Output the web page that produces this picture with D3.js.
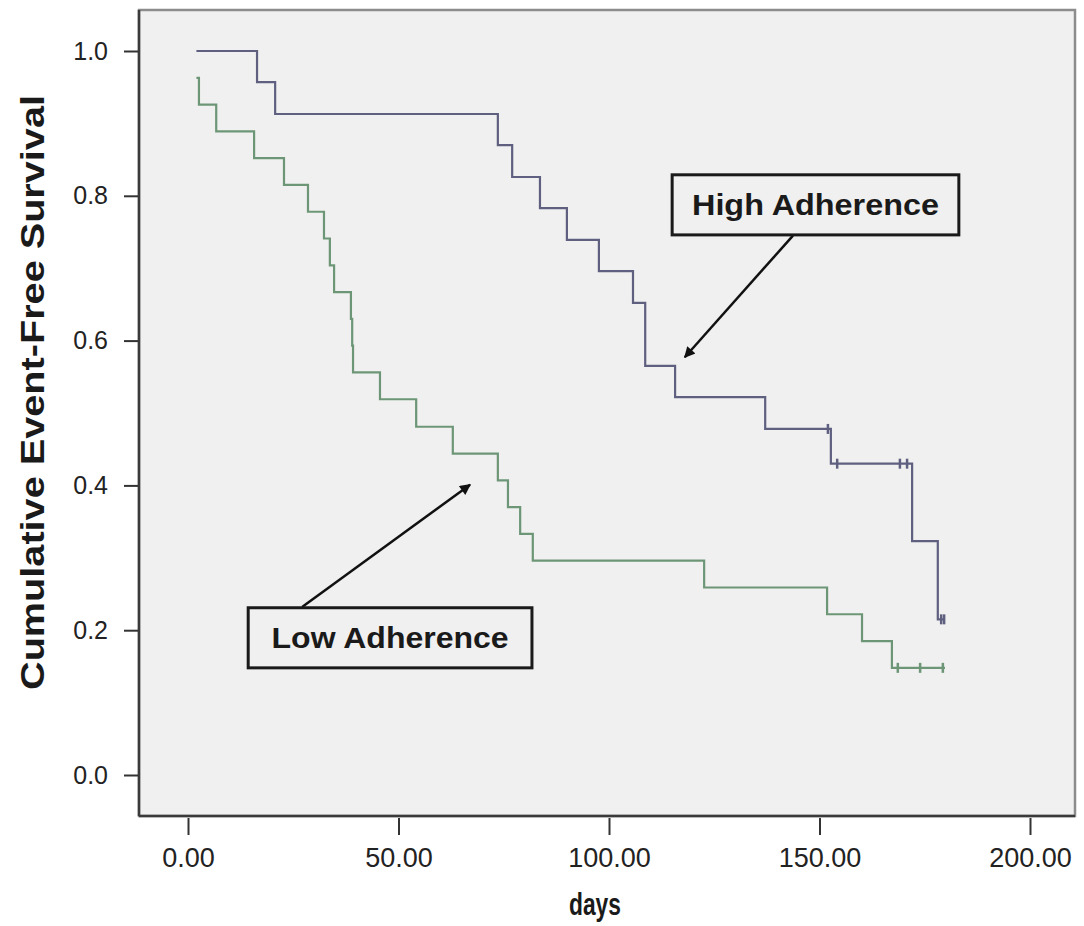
<!DOCTYPE html>
<html>
<head>
<meta charset="utf-8">
<script src="https://cdn.jsdelivr.net/npm/d3@7"></script>
<style>
  html, body { margin: 0; padding: 0; background: #fff; }
  svg { display: block; font-family: "Liberation Sans", Arial, sans-serif; }
</style>
</head>
<body>
<div id="chartContainer"></div>
<script>
// Kaplan-Meier: event-free survival by adherence group
const xTicks = [0, 50, 100, 150, 200];
const yTicks = [0, 0.2, 0.4, 0.6, 0.8, 1.0];

// High adherence: step times (days) and survival after each step
const highTimes = [2, 16.4, 20.7, 73.6, 77.0, 83.6, 90.0, 97.6, 105.7, 108.6, 115.7, 137.1, 152.7, 172.0, 178.1, 179.8];
const highSurv  = [1.0, 0.957, 0.913, 0.870, 0.826, 0.783, 0.739, 0.696, 0.652, 0.565, 0.522, 0.478, 0.430, 0.323, 0.215, 0.215];
const highCensored = [152.0, 154.2, 169.1, 170.8, 178.9, 179.6];

// Low adherence
const lowTimes = [2, 2.6, 6.7, 15.7, 22.8, 28.5, 32.3, 33.7, 34.7, 38.7, 39.0, 39.2, 45.6, 54.2, 62.9, 73.6, 76.0, 78.9, 81.9, 122.6, 151.8, 160.1, 167.2, 179.8];
const lowSurv  = [0.963, 0.926, 0.889, 0.852, 0.815, 0.778, 0.741, 0.704, 0.667, 0.630, 0.593, 0.556, 0.519, 0.481, 0.444, 0.407, 0.370, 0.333, 0.296, 0.259, 0.222, 0.185, 0.148, 0.148];
const lowCensored = [168.6, 173.9, 179.3];

(function() {
    const fullWidth = 1084;
    const fullHeight = 926;
    const frame = {left: 139, top: 10, right: 1075, bottom: 816};

    const svg = d3.select("#chartContainer").append("svg")
        .attr("width", fullWidth)
        .attr("height", fullHeight);

    svg.append("defs").append("marker")
        .attr("id", "arrow")
        .attr("viewBox", "0 0 10 10")
        .attr("refX", 9).attr("refY", 5)
        .attr("markerWidth", 13).attr("markerHeight", 11)
        .attr("markerUnits", "userSpaceOnUse")
        .attr("orient", "auto")
        .append("path")
        .attr("d", "M0,0 L10,5 L0,10 z")
        .attr("fill", "#111");

    const x = d3.scaleLinear().domain([0, 200]).range([188, 1030]);
    const y = d3.scaleLinear().domain([0, 1]).range([775, 51]);

    // plot frame
    svg.append("rect")
        .attr("x", frame.left).attr("y", frame.top)
        .attr("width", frame.right - frame.left)
        .attr("height", frame.bottom - frame.top)
        .attr("fill", "#f0f0f0")
        .attr("stroke", "#8c8c8c")
        .attr("stroke-width", 2.5);
    svg.append("line")
        .attr("x1", frame.left).attr("x2", frame.left)
        .attr("y1", frame.top).attr("y2", frame.bottom)
        .attr("stroke", "#3a3a3a").attr("stroke-width", 2.5);
    svg.append("line")
        .attr("x1", frame.left).attr("x2", frame.right)
        .attr("y1", frame.bottom).attr("y2", frame.bottom)
        .attr("stroke", "#3a3a3a").attr("stroke-width", 2.5);

    // y axis
    const yAxis = svg.append("g")
        .attr("transform", `translate(${frame.left - 1},0)`)
        .call(d3.axisLeft(y).tickValues(yTicks).tickFormat(d3.format(".1f")).tickSize(14).tickPadding(16));
    yAxis.select(".domain").remove();
    yAxis.selectAll(".tick line").attr("stroke", "#333").attr("stroke-width", 2);
    yAxis.selectAll(".tick text")
        .attr("fill", "#222")
        .style("font-size", "25px")
        .style("font-family", "'Liberation Sans', Arial, sans-serif");

    // x axis
    const xAxis = svg.append("g")
        .attr("transform", `translate(0,${frame.bottom + 2})`)
        .call(d3.axisBottom(x).tickValues(xTicks).tickFormat(d3.format(".2f")).tickSize(17).tickPadding(13));
    xAxis.select(".domain").remove();
    xAxis.selectAll(".tick line").attr("stroke", "#333").attr("stroke-width", 2);
    xAxis.selectAll(".tick text")
        .attr("fill", "#222")
        .style("font-size", "27px")
        .style("font-family", "'Liberation Sans', Arial, sans-serif");

    // axis titles
    svg.append("text")
        .attr("transform", `translate(44, ${(95 + 690) / 2}) rotate(-90)`)
        .attr("text-anchor", "middle")
        .attr("textLength", 595)
        .attr("lengthAdjust", "spacingAndGlyphs")
        .style("font-size", "33px")
        .style("font-weight", "bold")
        .attr("fill", "#1a1a1a")
        .text("Cumulative Event-Free Survival");

    svg.append("text")
        .attr("x", 595).attr("y", 915)
        .attr("text-anchor", "middle")
        .attr("textLength", 52)
        .attr("lengthAdjust", "spacingAndGlyphs")
        .style("font-size", "31px")
        .style("font-weight", "bold")
        .attr("fill", "#1a1a1a")
        .text("days");

    // survival curves
    const series = [
        {name: "High Adherence", times: highTimes, surv: highSurv, censored: highCensored, color: "#5f5f80"},
        {name: "Low Adherence", times: lowTimes, surv: lowSurv, censored: lowCensored, color: "#6c9676"}
    ];

    const stepLine = d3.line()
        .x(d => x(d[0]))
        .y(d => y(d[1]))
        .curve(d3.curveStepAfter);

    series.forEach(s => {
        const pts = s.times.map((t, i) => [t, s.surv[i]]);
        svg.append("path")
            .datum(pts)
            .attr("d", stepLine)
            .attr("fill", "none")
            .attr("stroke", s.color)
            .attr("stroke-width", 2.2);

        const survAt = t => {
            let v = s.surv[0];
            s.times.forEach((tt, i) => { if (tt <= t) v = s.surv[i]; });
            return v;
        };
        svg.append("g")
            .selectAll("line")
            .data(s.censored)
            .join("line")
            .attr("x1", d => x(d)).attr("x2", d => x(d))
            .attr("y1", d => y(survAt(d)) - 5)
            .attr("y2", d => y(survAt(d)) + 5)
            .attr("stroke", s.color)
            .attr("stroke-width", 2.5);
    });

    // annotations (in data units)
    const notes = [
        {label: "High Adherence", len: 247, box: [115.0, 183.1, 0.829, 0.746], tail: [143.7, 0.745], tip: [118.0, 0.577]},
        {label: "Low Adherence",  len: 237, box: [14.3, 81.7, 0.231, 0.148],  tail: [27.1, 0.232], tip: [67.0, 0.401]}
    ];

    notes.forEach(n => {
        svg.append("line")
            .attr("x1", x(n.tail[0])).attr("y1", y(n.tail[1]))
            .attr("x2", x(n.tip[0])).attr("y2", y(n.tip[1]))
            .attr("stroke", "#111")
            .attr("stroke-width", 2.5)
            .attr("marker-end", "url(#arrow)");
        const bx = x(n.box[0]), by = y(n.box[2]);
        const bw = x(n.box[1]) - bx, bh = y(n.box[3]) - by;
        svg.append("rect")
            .attr("x", bx).attr("y", by)
            .attr("width", bw).attr("height", bh)
            .attr("fill", "#f0f0f0")
            .attr("stroke", "#1a1a1a")
            .attr("stroke-width", 3);
        svg.append("text")
            .attr("x", bx + bw / 2)
            .attr("y", by + bh / 2 + 10)
            .attr("text-anchor", "middle")
            .attr("textLength", n.len)
            .attr("lengthAdjust", "spacingAndGlyphs")
            .style("font-size", "29px")
            .style("font-weight", "bold")
            .attr("fill", "#1a1a1a")
            .text(n.label);
    });
})();
</script>
</body>
</html>
